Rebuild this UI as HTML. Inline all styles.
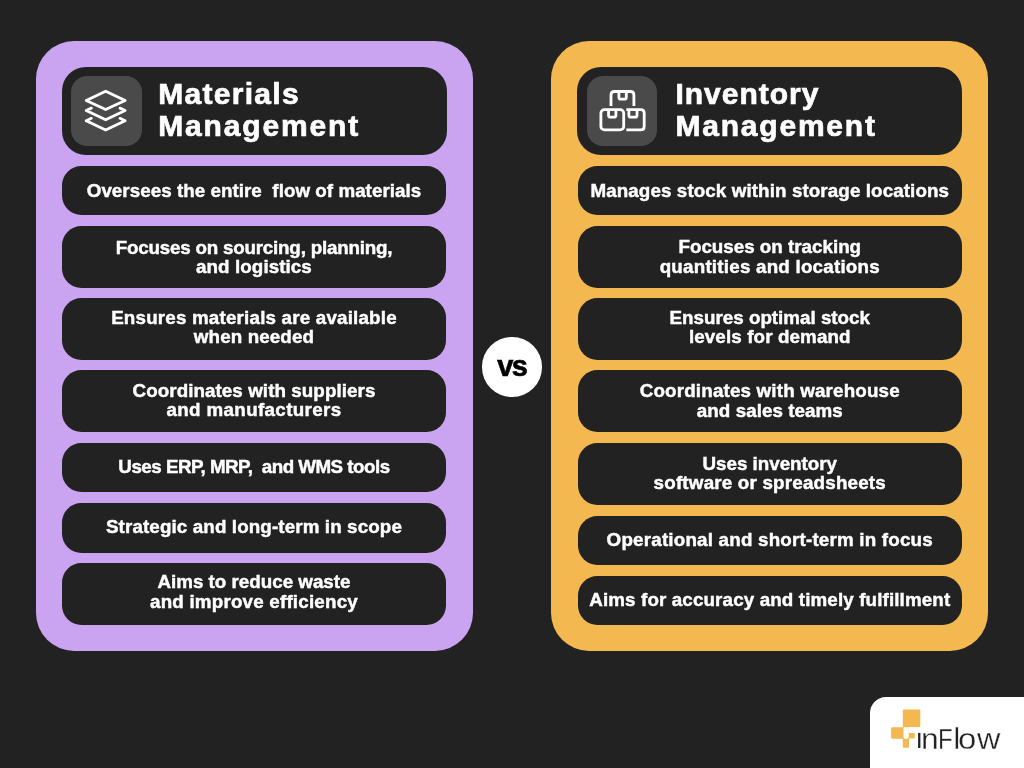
<!DOCTYPE html>
<html>
<head>
<meta charset="utf-8">
<style>
*{margin:0;padding:0;box-sizing:border-box}
html,body{width:1024px;height:768px;overflow:hidden;background:#222222}
body{position:relative;will-change:transform;font-family:"Liberation Sans",sans-serif;color:#fff}
.card{position:absolute;top:41px;width:437px;height:610px;border-radius:38px}
.purple{left:35.5px;background:#caa4f1}
.orange{left:551.3px;background:#f4b851}
.box{position:absolute;left:26.4px;width:384.2px;background:#222222;border-radius:19.5px;display:flex;align-items:center;justify-content:center;text-align:center;font-weight:bold;font-size:18.8px;line-height:19.1px;white-space:pre;-webkit-text-stroke:0.45px #fff}
.box span{display:block}
.hdr{position:absolute;left:26px;top:26px;width:385px;height:88px;background:#222222;border-radius:24px}
.ico{position:absolute;left:9.3px;top:8.8px;width:70.8px;height:70px;border-radius:16px;background:#4a4a4a}
.ico svg{position:absolute;left:0;top:0}
.ttl{position:absolute;left:96.7px;font-weight:bold;font-size:30px;line-height:30px;-webkit-text-stroke:0.7px #fff;white-space:nowrap}
.vs{position:absolute;left:482.1px;top:337.4px;width:59.5px;height:59.5px;border-radius:50%;background:#fff;color:#000;font-weight:bold;font-size:29px;letter-spacing:-1.5px;-webkit-text-stroke:0.6px #000;padding-bottom:2px;display:flex;align-items:center;justify-content:center}
.lt{position:absolute;top:26.8px;font-size:30px;line-height:30px;color:#222;-webkit-text-stroke:0.3px #fff;white-space:nowrap}
.logo{position:absolute;left:869.9px;top:697.3px;width:200px;height:100px;background:#fff;border-radius:16px 0 0 0}
</style>
</head>
<body>
<div class="card purple">
  <div class="hdr">
    <div class="ico">
      <svg width="71" height="70" viewBox="0 0 71 70" fill="none" stroke="#fff" stroke-width="2.8" stroke-linejoin="round" stroke-linecap="round">
        <path d="M34.67 15.2 L54.15 24.4 L34.67 33.6 L15.2 24.4 Z"/>
        <path d="M20.4 32.14 L15.2 34.6 L34.67 43.8 L54.15 34.6 L48.95 32.14"/>
        <path d="M20.4 42.34 L15.2 44.8 L34.67 54 L54.15 44.8 L48.95 42.34"/>
      </svg>
    </div>
    <div class="ttl" style="top:11.5px;letter-spacing:1.3px">Materials</div>
    <div class="ttl" style="top:43.7px;letter-spacing:1.85px">Management</div>
  </div>
  <div class="box" style="top:124.8px;height:49.5px"><div style="position:relative;top:-0.35px"><span style="letter-spacing:0.04px">Oversees the entire  flow of materials</span></div></div>
  <div class="box" style="top:184.5px;height:62.2px"><div style="position:relative;top:0.0px"><span style="letter-spacing:-0.21px">Focuses on sourcing, planning,</span><span style="letter-spacing:0.08px">and logistics</span></div></div>
  <div class="box" style="top:256.8px;height:62.1px"><div style="position:relative;top:-1.45px"><span style="letter-spacing:0.19px">Ensures materials are available</span><span style="letter-spacing:0.12px">when needed</span></div></div>
  <div class="box" style="top:329.2px;height:62.1px"><div style="position:relative;top:-1.25px"><span style="letter-spacing:0.07px">Coordinates with suppliers</span><span style="letter-spacing:0.35px">and manufacturers</span></div></div>
  <div class="box" style="top:401.8px;height:49.7px"><div style="position:relative;top:-1.05px"><span style="letter-spacing:-0.52px">Uses ERP, MRP,  and WMS tools</span></div></div>
  <div class="box" style="top:461.9px;height:49.8px"><div style="position:relative;top:-1.6px"><span style="letter-spacing:0.12px">Strategic and long-term in scope</span></div></div>
  <div class="box" style="top:521.9px;height:62.1px"><div style="position:relative;top:-2.45px"><span style="letter-spacing:0.0px">Aims to reduce waste</span><span style="letter-spacing:0.2px">and improve efficiency</span></div></div>
</div>

<div class="card orange">
  <div class="hdr">
    <div class="ico">
      <svg width="71" height="70" viewBox="0 0 71 70" fill="none" stroke="#fff" stroke-width="2.8" stroke-linejoin="round">
        <path d="M24 29.9 V19 Q24 15.5 27.5 15.5 H43.4 Q46.9 15.5 46.9 19 V29.9"/>
        <path d="M31.9 15.5 V21.2 Q31.9 23.2 33.9 23.2 H37.3 Q39.3 23.2 39.3 21.2 V15.5"/>
        <rect x="13.9" y="33.6" width="22.8" height="20.3" rx="3.5"/>
        <path d="M21.55 33.6 V39.2 Q21.55 41.2 23.55 41.2 H26.9 Q28.9 41.2 28.9 39.2 V33.6"/>
        <path d="M39.3 33.6 H53.7 Q57.2 33.6 57.2 37.1 V50.4 Q57.2 53.9 53.7 53.9 H39.3"/>
        <path d="M41.9 33.6 V39.2 Q41.9 41.2 43.9 41.2 H48 Q50 41.2 50 39.2 V33.6"/>
      </svg>
    </div>
    <div class="ttl" style="left:98.1px;top:11.5px;letter-spacing:1.0px">Inventory</div>
    <div class="ttl" style="left:98.1px;top:43.7px;letter-spacing:1.8px">Management</div>
  </div>
  <div class="box" style="top:124.8px;height:49.5px"><div style="position:relative;top:-0.15px"><span style="letter-spacing:0.1px">Manages stock within storage locations</span></div></div>
  <div class="box" style="top:184.5px;height:62.2px"><div style="position:relative;top:-0.1px"><span style="letter-spacing:0.0px">Focuses on tracking</span><span style="letter-spacing:0.22px">quantities and locations</span></div></div>
  <div class="box" style="top:256.8px;height:62.1px"><div style="position:relative;top:-1.55px"><span style="letter-spacing:0.0px">Ensures optimal stock</span><span style="letter-spacing:0.12px">levels for demand</span></div></div>
  <div class="box" style="top:329.2px;height:62.1px"><div style="position:relative;top:-0.7px"><span style="letter-spacing:0.17px">Coordinates with warehouse</span><span style="letter-spacing:0.05px">and sales teams</span></div></div>
  <div class="box" style="top:401.8px;height:62.1px"><div style="position:relative;top:-0.8px"><span style="letter-spacing:-0.02px">Uses inventory</span><span style="letter-spacing:0.2px">software or spreadsheets</span></div></div>
  <div class="box" style="top:474.5px;height:49.8px"><div style="position:relative;top:-0.65px"><span style="letter-spacing:0.2px">Operational and short-term in focus</span></div></div>
  <div class="box" style="top:534.7px;height:49.5px"><div style="position:relative;top:-1.35px"><span style="letter-spacing:0.13px">Aims for accuracy and timely fulfillment</span></div></div>
</div>

<div class="vs">vs</div>

<div class="logo">
  <svg width="155" height="71" viewBox="0 0 155 71" style="position:absolute;left:0;top:0">
    <g fill="#f4b851">
      <rect x="32.8" y="12.4" width="17.5" height="17.6" rx="1"/>
      <rect x="21.1" y="30.2" width="12.3" height="11.5" rx="1"/>
      <rect x="32.8" y="38" width="6.3" height="12.7" rx="1"/>
      <rect x="38.5" y="36" width="6.3" height="5.5" rx="1"/>
      <path d="M32.5 29.5 H39.1 V41 H32.5 Z"/>
    </g>
    <path d="M33.5 30.3 H38.8 V39.2 Q38.8 41.8 36.15 41.8 Q33.5 41.8 33.5 39.2 Z" fill="#fff"/>
    <rect x="38.8" y="30.3" width="8" height="5.7" fill="#fff"/>
    <rect x="48.1" y="35.9" width="2.3" height="15.1" fill="#222"/>
  </svg>
  <span class="lt" style="left:51.6px;transform:scaleX(1.06);transform-origin:0 0">n</span><span class="lt" style="left:68.3px;transform:scaleX(0.8);transform-origin:0 0">F</span><span class="lt" style="left:83.5px">l</span><span class="lt" style="left:88.6px;transform:scaleX(1.1);transform-origin:0 0">o</span><span class="lt" style="left:107.3px;transform:scaleX(1.08);transform-origin:0 0">w</span>
</div>
</body>
</html>
